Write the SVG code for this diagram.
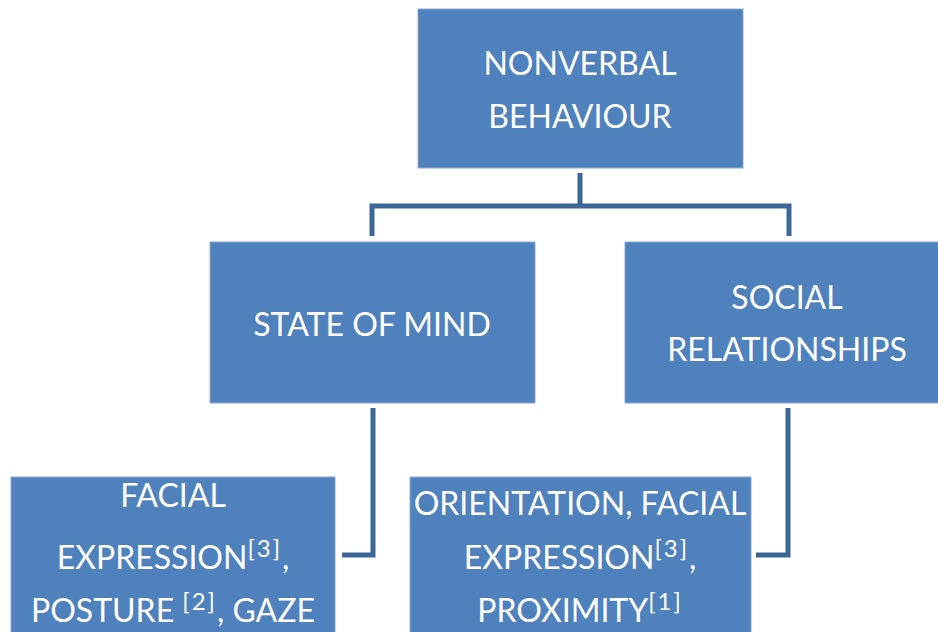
<svg xmlns="http://www.w3.org/2000/svg" width="938" height="632" viewBox="0 0 938 632">
  <style>
    .box { fill: #4F81BD; stroke: #8DA9D4; stroke-width: 1; }
    .lbl { font-family: Lato, "Open Sans", "Liberation Sans", sans-serif; font-size: 32px; fill: #ffffff; text-anchor: middle; }
    .sup { font-size: 24px; letter-spacing: 2px; }
    .wire { fill: none; stroke: #3D6698; stroke-width: 5; stroke-linejoin: miter; }
  </style>
  <rect width="938" height="632" fill="#ffffff"/>

  <g id="connectors">
    <path class="wire" d="M580 173 V206 M372 236 V206 H789 V236"/>
    <path class="wire" d="M373 408 V555 H342"/>
    <path class="wire" d="M788 408 V555 H756"/>
  </g>

  <g id="nonverbal-behaviour">
    <rect class="box" x="418" y="9" width="325" height="159"/>
    <text class="lbl" x="580" y="75">NONVERBAL</text>
    <text class="lbl" x="580" y="128">BEHAVIOUR</text>
  </g>

  <g id="state-of-mind">
    <rect class="box" x="210" y="242" width="325" height="161"/>
    <text class="lbl" x="372" y="336">STATE OF MIND</text>
  </g>

  <g id="social-relationships">
    <rect class="box" x="625" y="242" width="325" height="161"/>
    <text class="lbl" x="787" y="309">SOCIAL</text>
    <text class="lbl" x="787" y="361">RELATIONSHIPS</text>
  </g>

  <g id="state-cues">
    <rect class="box" x="11" y="477" width="324" height="170"/>
    <text class="lbl" x="173" y="507">FACIAL</text>
    <text class="lbl" x="173" y="569">EXPRESSION<tspan class="sup" dy="-12">[3]</tspan><tspan dy="12">,</tspan></text>
    <text class="lbl" x="173" y="622">POSTURE <tspan class="sup" dy="-12">[2]</tspan><tspan dy="12">, GAZE</tspan></text>
  </g>

  <g id="social-cues">
    <rect class="box" x="410" y="477" width="341" height="170"/>
    <text class="lbl" x="580" y="515">ORIENTATION, FACIAL</text>
    <text class="lbl" x="580" y="569">EXPRESSION<tspan class="sup" dy="-12">[3]</tspan><tspan dy="12">,</tspan></text>
    <text class="lbl" x="580" y="622">PROXIMITY<tspan class="sup" dy="-12">[1]</tspan></text>
  </g>
</svg>
